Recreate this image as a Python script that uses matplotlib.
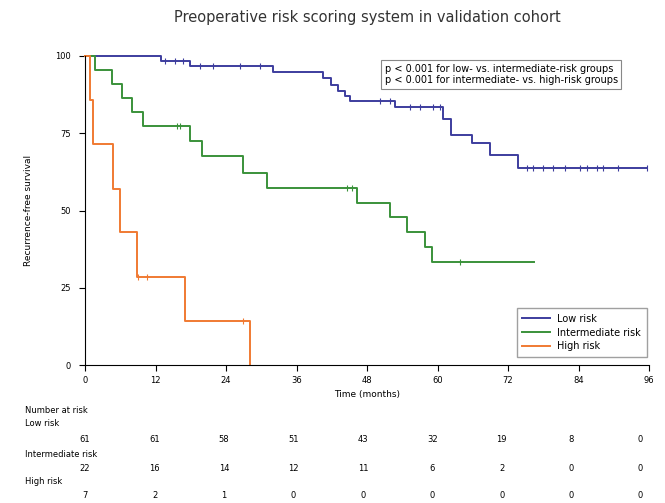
import numpy as np
import matplotlib.pyplot as plt

# survival curves (months, % survival)
low_t = [0, 13.0, 17.9, 32.0, 40.5, 41.8, 43.0, 44.2, 45.1, 52.8, 61.0, 62.3, 65.9, 68.9, 73.7, 95.7]
low_s = [100, 98.4, 96.7, 94.9, 92.8, 90.7, 88.6, 86.9, 85.4, 83.5, 79.5, 74.4, 71.8, 68.0, 63.8, 63.8]
low_cens = [13.6, 15.3, 16.7, 19.6, 21.8, 26.4, 29.8, 50.2, 51.9, 55.3, 57.0, 59.2, 60.4,
            75.2, 76.3, 78.0, 79.7, 81.7, 84.3, 85.4, 87.1, 88.2, 90.7, 95.7]

int_t = [0, 1.7, 4.5, 6.2, 7.9, 9.9, 17.9, 19.9, 26.9, 30.9, 46.2, 51.9, 54.8, 57.9, 59.0, 76.5]
int_s = [100, 95.5, 90.9, 86.4, 81.8, 77.3, 72.4, 67.6, 62.0, 57.2, 52.4, 48.0, 43.1, 38.3, 33.4, 33.4]
int_cens = [15.6, 16.2, 44.6, 45.4, 63.8]

high_t = [0, 0.8, 1.4, 4.8, 6.0, 8.8, 17.0, 28.1]
high_s = [100, 85.7, 71.4, 57.1, 42.9, 28.6, 14.3, 0]
high_cens = [9.0, 10.5, 26.9]

groups = ['Low risk', 'Intermediate risk', 'High risk']
colors = ['#3d3d9e', '#3a923a', '#f07a32']

risk_times = [0, 12, 24, 36, 48, 60, 72, 84, 96]
low_risk_n = [61, 61, 58, 51, 43, 32, 19, 8, 0]
int_risk_n = [22, 16, 14, 12, 11, 6, 2, 0, 0]
high_risk_n = [7, 2, 1, 0, 0, 0, 0, 0, 0]

fig = plt.figure(figsize=(6.65, 5.03), dpi=100)
ax = fig.add_axes([0.128, 0.274, 0.848, 0.615])

curves = [(low_t, low_s, low_cens), (int_t, int_s, int_cens), (high_t, high_s, high_cens)]
for (t, s, cens), name, c in zip(curves, groups, colors):
    ax.step(t, s, where='post', color=c, lw=1.4, label=name, clip_on=False)
    # censor ticks sit on the curve
    cs = [s[np.searchsorted(t, x, side='right') - 1] for x in cens]
    ax.plot(cens, cs, ls='none', marker='|', ms=4, mew=0.8, color=c, clip_on=False)

ax.set_xlim(0, 96)
ax.set_ylim(0, 100)
ax.set_xticks(risk_times)
ax.set_yticks([0, 25, 50, 75, 100])
ax.tick_params(labelsize=6, length=4, width=0.8)
ax.tick_params(axis='y', pad=6)
ax.spines['top'].set_visible(False)
ax.spines['right'].set_visible(False)
ax.set_xlabel('Time (months)', fontsize=6.5, labelpad=4)
ax.set_ylabel('Recurrence-free survival', fontsize=6.5, labelpad=16)
ax.set_title('Preoperative risk scoring system in validation cohort', fontsize=10.5,
             color='#333333', pad=24)

ax.legend(loc='lower right', fontsize=7, frameon=True, fancybox=False, edgecolor='#888888',
          handlelength=2.8, borderpad=0.6, labelspacing=0.4, bbox_to_anchor=(1.005, 0.01))

ax.text(0.531, 0.975, 'p < 0.001 for low- vs. intermediate-risk groups\n'
        'p < 0.001 for intermediate- vs. high-risk groups',
        transform=ax.transAxes, ha='left', va='top', fontsize=7, linespacing=1.2,
        bbox=dict(boxstyle='square,pad=0.35', fc='white', ec='#888888', lw=0.8))

# number at risk table
blend = plt.matplotlib.transforms.blended_transform_factory(ax.transData, fig.transFigure)
fig.text(0.038, 0.179, 'Number at risk', fontsize=6)
fig.text(0.038, 0.153, 'Low risk', fontsize=6)
fig.text(0.038, 0.092, 'Intermediate risk', fontsize=6)
fig.text(0.038, 0.038, 'High risk', fontsize=6)
for row, yy in zip([low_risk_n, int_risk_n, high_risk_n], [0.122, 0.064, 0.010]):
    for tt, n in zip(risk_times, row):
        fig.text(tt * 0.985, yy, str(n), transform=blend, ha='center', fontsize=6)

plt.savefig('out.png', dpi=100)
